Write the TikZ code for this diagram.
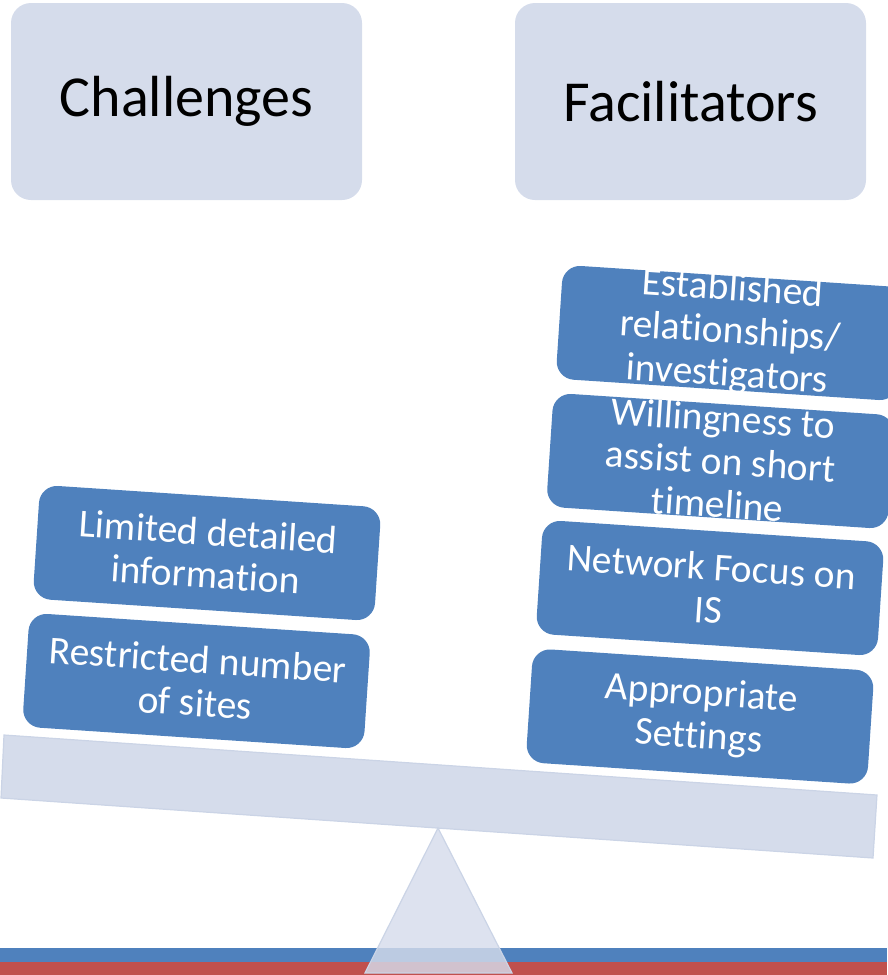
\documentclass[tikz,border=0pt]{standalone}
\usepackage{fontspec}
\setmainfont{Carlito}[Ligatures={NoCommon,NoRare,NoContextual},Contextuals=NoAlternate,RawFeature={-liga;-clig;-calt}]
\definecolor{lightbox}{RGB}{213,220,235}
\definecolor{lightedge}{RGB}{203,212,230}
\definecolor{accentblue}{RGB}{79,129,189}
\definecolor{accentred}{RGB}{192,80,77}
\tikzset{
  titlebox/.style={fill=lightbox, rounded corners=20pt, minimum width=351pt, minimum height=197pt, inner sep=0pt, font=\fontsize{58}{69}\selectfont, text=black},
  itembox/.style={fill=accentblue, rounded corners=18pt, minimum width=342pt, minimum height=114pt, inner sep=0pt, rotate=-3.8},
  itemtext/.style={text=white, align=center, inner sep=0pt, rotate=-3.8, font=\fontsize{39.5}{43}\selectfont},
  beamstyle/.style={fill=lightbox, draw=lightedge, line width=1.2pt},
  fulcrum/.style={fill=lightbox, fill opacity=0.82, draw=lightedge, line width=1.2pt}
}
\begin{document}
\begin{tikzpicture}[x=1pt,y=-1pt]
\useasboundingbox (0,0) rectangle (887,975);
% ground bars
\fill[accentblue] (0,948) rectangle (887,962);
\fill[accentred] (0,962) rectangle (887,975);
% title boxes
\node[titlebox] (chal) at (186.5,101.5) {Challenges};
\node[titlebox] (faci) at (690.5,101.5) {Facilitators};
% beam
\coordinate (btl) at (4,735);
\coordinate (btr) at (877,795);
\coordinate (bbr) at (873,858);
\coordinate (bbl) at (1,798);
\draw[beamstyle] (btl) -- (btr) -- (bbr) -- (bbl) -- cycle;
% fulcrum
\coordinate (apex) at (438,828);
\coordinate (fr) at (512,973);
\coordinate (fl) at (365,973);
\draw[fulcrum] (apex) -- (fr) -- (fl) -- cycle;
% left stack
\node[itembox] (b1) at (207,553) {};
\node[itemtext] (t1) at (b1.center) {Limited detailed\\information};
\node[itembox] (b2) at (196.5,681) {};
\node[itemtext] (t2) at (b2.center) {Restricted number\\of sites};
% right stack
\node[itembox] (r1) at (730,333) {};
\node[itembox] (r2) at (720.5,461) {};
\node[itembox] (r3) at (710,588) {};
\node[itembox] (r4) at (700,716.5) {};
\node[itemtext] (s1) at (r1.center) {Established\\relationships/\\investigators};
\node[itemtext] (s2) at (r2.center) {Willingness to\\assist on short\\timeline};
\node[itemtext] (s3) at (r3.center) {Network Focus on\\IS};
\node[itemtext] (s4) at (r4.center) {Appropriate\\Settings};
\end{tikzpicture}
\end{document}
